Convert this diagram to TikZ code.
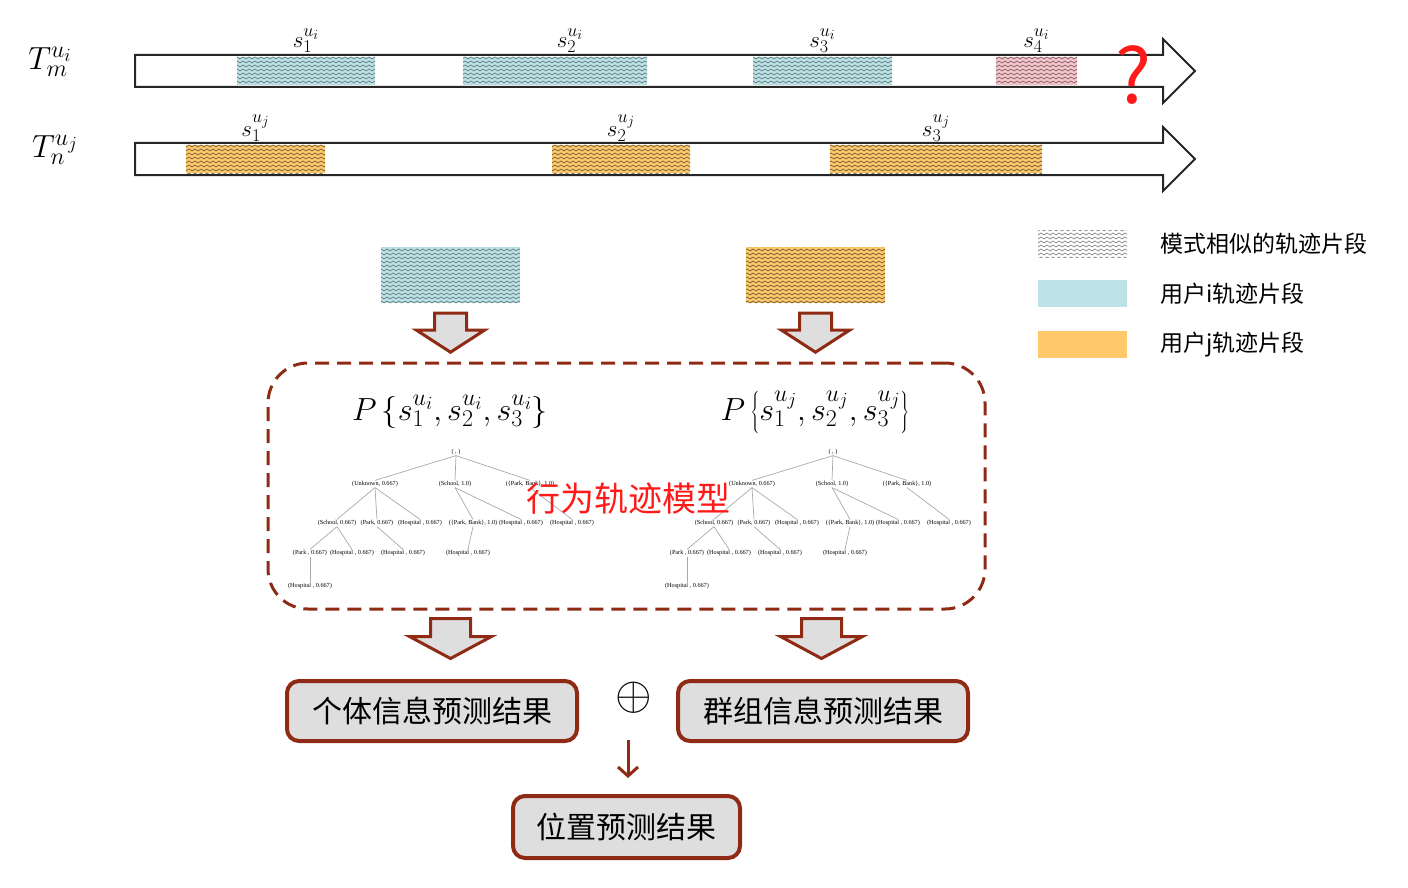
\RequirePackage{fix-cm}
\documentclass[tikz,border=0pt]{standalone}
\usepackage{fontspec}
\newfontfamily\cjk{Noto Sans CJK SC}
\newfontfamily\treefont{Liberation Serif}
\usetikzlibrary{positioning,arrows.meta,patterns,calc}
\DeclareMathSizes{23}{23}{18}{14}
\DeclareMathSizes{32}{32}{24}{18.5}
\definecolor{segIF}{HTML}{BDE2E6}
\definecolor{segJF}{HTML}{FFC96B}
\definecolor{segQF}{HTML}{F4C6CA}
\definecolor{zigI}{HTML}{5F7B7F}
\definecolor{zigJ}{HTML}{75603A}
\definecolor{zigQ}{HTML}{86646A}
\definecolor{zigL}{HTML}{8A8A8A}
\definecolor{brickB}{HTML}{8F2B14}
\definecolor{boxF}{HTML}{DEDEDE}
\definecolor{redT}{HTML}{FF1A1A}
\definecolor{treeL}{HTML}{A8A8A8}
\pgfdeclarepatternformonly{zigzag}{\pgfqpoint{-1pt}{-1pt}}{\pgfqpoint{7pt}{5pt}}{\pgfqpoint{6pt}{4pt}}{%
 \pgfsetlinewidth{0.7pt}
 \pgfpathmoveto{\pgfqpoint{0pt}{1pt}}
 \pgfpathlineto{\pgfqpoint{3pt}{3pt}}
 \pgfpathlineto{\pgfqpoint{6pt}{1pt}}
 \pgfusepath{stroke}}
\tikzset{
 seg/.style={draw=none, minimum height=28pt, inner sep=0pt, pattern=zigzag},
 segI/.style={seg, preaction={fill=segIF}, pattern color=zigI},
 segJ/.style={seg, preaction={fill=segJF}, pattern color=zigJ},
 segQ/.style={seg, preaction={fill=segQF}, pattern color=zigQ},
 traj/.style={draw=black!85, line width=2pt, line join=miter},
 slab/.style={inner sep=0pt, font=\fontsize{23}{23}\selectfont},
 tlab/.style={inner sep=0pt, font=\fontsize{32}{32}\selectfont},
 legbox/.style={draw=none, minimum width=89pt, minimum height=27pt, inner sep=0pt},
 legtxt/.style={right=33pt of #1, inner sep=0pt, font=\cjk\fontsize{23}{23}\selectfont},
 fatarr/.style={draw=brickB, fill=boxF, line width=3pt, line join=miter},
 model/.style={draw=brickB, line width=3pt, dash pattern=on 14pt off 8pt, rounded corners=40pt},
 res/.style={draw=brickB, fill=boxF, line width=4pt, rounded corners=12pt, inner sep=0pt,
             font=\cjk\fontsize{30}{30}\selectfont, minimum height=60pt},
 tn/.style={inner sep=0.6pt, font=\treefont\fontsize{6.2}{6.5}\selectfont},
 te/.style={draw=treeL, line width=0.7pt},
 thinarr/.style={-{Straight Barb[length=9pt,width=20pt]}, draw=brickB, line width=3pt},
}
% top centre, shaft half width, shaft length, head half width, head length
\newcommand{\fatdown}[5]{%
 \draw[fatarr] ($#1+(-#2,0)$) -- ++({2*#2},0) -- ++(0,-#3) -- ++({#4-#2},0)
   -- ++(-#4,-#5) -- ++(-#4,#5) -- ++({#4-#2},0) -- cycle;}
\begin{document}
\begin{tikzpicture}[x=1pt, y=1pt]
\useasboundingbox (0,0) rectangle (1408,-888);
% trajectories
\node[tlab] (tm) at (50,-62) {$T_m^{u_i}$};
\node[tlab] (tn) at (55,-150) {$T_n^{u_j}$};
\node[segI, minimum width=138pt] (si1) at (306,-71) {};
\node[segI, minimum width=184pt] (si2) at (555,-71) {};
\node[segI, minimum width=139pt] (si3) at (822.5,-71) {};
\node[segQ, minimum width=81pt] (si4) at (1036.5,-71) {};
\node[segJ, minimum width=139pt] (sj1) at (255.5,-159) {};
\node[segJ, minimum width=138pt] (sj2) at (621,-159) {};
\node[segJ, minimum width=212pt] (sj3) at (936,-159) {};
\foreach \y in {-71,-159}
 \draw[traj] (135,\y+16) -- (1163,\y+16) -- (1163,\y+32) -- (1195,\y) -- (1163,\y-32)
   -- (1163,\y-16) -- (135,\y-16) -- cycle;
\node[slab, above=4pt of si1] (lsi1) {$s_1^{u_i}$};
\node[slab, above=4pt of si2, xshift=15pt] (lsi2) {$s_2^{u_i}$};
\node[slab, above=4pt of si3] (lsi3) {$s_3^{u_i}$};
\node[slab, above=4pt of si4] (lsi4) {$s_4^{u_i}$};
\node[slab, above=3pt of sj1] (lsj1) {$s_1^{u_j}$};
\node[slab, above=3pt of sj2] (lsj2) {$s_2^{u_j}$};
\node[slab, above=3pt of sj3] (lsj3) {$s_3^{u_j}$};
\node[text=redT, inner sep=0pt, font=\cjk\fontsize{76}{76}\selectfont] (qm) at (1133,-75) {?};
% legend
\node[legbox, pattern=zigzag, pattern color=zigL] (lg1) at (1082.5,-243.5) {};
\node[legbox, fill=segIF] (lg2) at (1082.5,-293.5) {};
\node[legbox, fill=segJF] (lg3) at (1082.5,-344.5) {};
\node[legtxt=lg1] (lt1) {模式相似的轨迹片段};
\node[legtxt=lg2] (lt2) {用户i轨迹片段};
\node[legtxt=lg3] (lt3) {用户j轨迹片段};
% similar segments
\node[segI, minimum width=139pt, minimum height=56pt] (pi) at (450.5,-275) {};
\node[segJ, minimum width=139pt, minimum height=56pt] (pj) at (815.5,-275) {};
% behaviour model
\node[model, minimum width=717pt, minimum height=246pt] (mdl) at (626.5,-486) {};
\node[inner sep=0pt, font=\fontsize{32}{32}\selectfont] (fi) at (450,-412)
 {$P\left\{s_1^{u_i},s_2^{u_i},s_3^{u_i}\right\}$};
\node[inner sep=0pt, font=\fontsize{32}{32}\selectfont] (fj) at (815,-412)
 {$P\left\{s_1^{u_j},s_2^{u_j},s_3^{u_j}\right\}$};
\foreach \tp/\dx in {ti/0,tj/377} {
 \begin{scope}[xshift=\dx, name prefix=\tp-]
 \node[tn] (root) at (456,-452) {( , )};
 \node[tn] (unk) at (375,-484) {(Unknown, 0.667)};
 \node[tn] (sch) at (455,-484) {(School, 1.0)};
 \node[tn] (pb) at (530,-484) {(\{Park, Bank\}, 1.0)};
 \node[tn] (schb) at (337,-523) {(School, 0.667)};
 \node[tn] (parkb) at (377,-523) {(Park, 0.667)};
 \node[tn] (hosa) at (420,-523) {(Hospital , 0.667)};
 \node[tn] (pbb) at (473,-523) {(\{Park, Bank\}, 1.0)};
 \node[tn] (hosb) at (521,-523) {(Hospital , 0.667)};
 \node[tn] (hosc) at (572,-523) {(Hospital , 0.667)};
 \node[tn] (parkc) at (310,-553) {(Park , 0.667)};
 \node[tn] (hosd) at (352,-553) {(Hospital , 0.667)};
 \node[tn] (hose) at (403,-553) {(Hospital , 0.667)};
 \node[tn] (hosf) at (468,-553) {(Hospital , 0.667)};
 \node[tn] (hosg) at (310,-586) {(Hospital , 0.667)};
 \foreach \a/\b in {root/unk,root/sch,root/pb,unk/schb,unk/parkb,unk/hosa,sch/pbb,sch/hosb,
   pb/hosc,schb/parkc,schb/hosd,parkb/hose,pbb/hosf,parkc/hosg}
  \draw[te] (\a.south) -- (\b.north);
 \end{scope}
}
\node[text=redT, inner sep=0pt, font=\cjk\fontsize{34}{34}\selectfont] (mname) at (628,-499) {行为轨迹模型};
% results
\node[res, minimum width=290pt] (ind) at (432,-711) {个体信息预测结果};
\node[res, minimum width=290pt] (grp) at (823,-711) {群组信息预测结果};
\node[res, minimum width=227pt, minimum height=62pt] (loc) at (626.5,-827) {位置预测结果};
\node[inner sep=0pt, font=\fontsize{47}{47}\selectfont] (oplus) at (634,-698) {$\oplus$};
% arrows
\coordinate (fa1) at ($(pi.south)+(0,-10)$);
\coordinate (fa2) at ($(pj.south)+(0,-10)$);
\coordinate (fa3) at ($(pi.center |- mdl.south)+(0,-8)$);
\coordinate (fa4) at ($(pj.center |- mdl.south)+(6,-8)$);
\fatdown{(fa1)}{16}{17}{34}{22}
\fatdown{(fa2)}{16}{17}{34}{22}
\fatdown{(fa3)}{20}{18}{41}{22}
\fatdown{(fa4)}{20}{18}{41}{22}
\coordinate (ms) at (628,-740);
\draw[thinarr, shorten >=16pt] (ms) -- (ms |- loc.north);
\end{tikzpicture}
\end{document}
